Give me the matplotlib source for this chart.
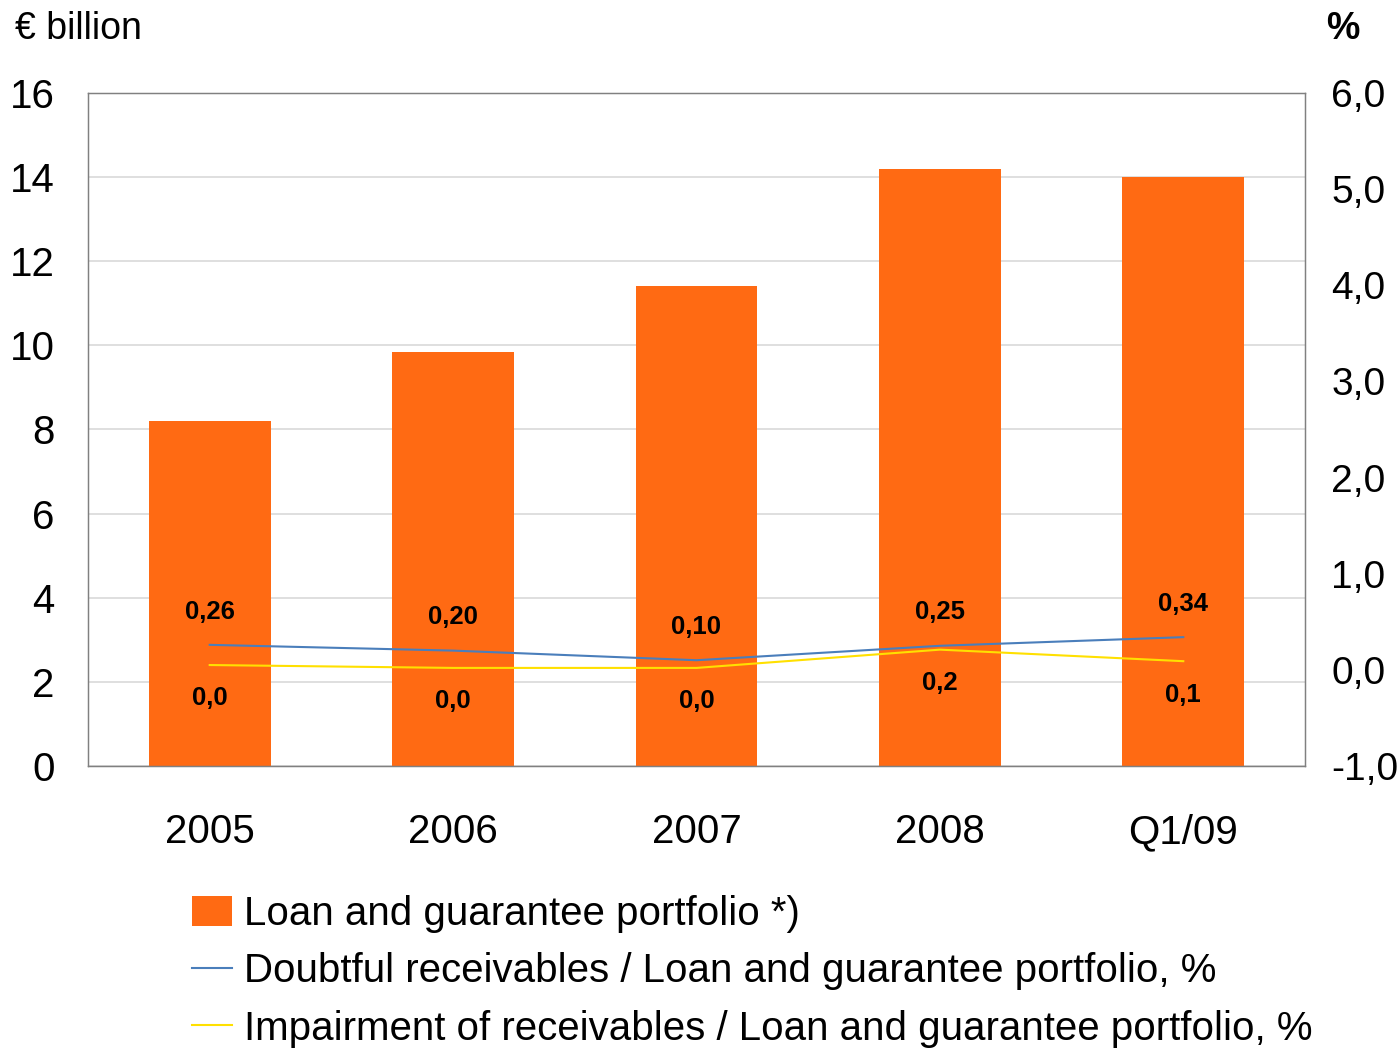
import matplotlib
matplotlib.use('Agg')
import matplotlib.pyplot as plt
from matplotlib.patches import Patch
from matplotlib.lines import Line2D

plt.rcParams['font.family'] = ['Liberation Sans', 'DejaVu Sans']

# 데이터
categories = ['2005', '2006', '2007', '2008', 'Q1/09']
portfolio = [8.2, 9.85, 11.4, 14.2, 14.0]          # € billion
doubtful = [0.26, 0.20, 0.10, 0.25, 0.34]          # %
impairment = [0.05, 0.02, 0.02, 0.21, 0.09]        # %
impairment_labels = ['0,0', '0,0', '0,0', '0,2', '0,1']
left_ticks = [0, 2, 4, 6, 8, 10, 12, 14, 16]
right_ticks = [-1, 0, 1, 2, 3, 4, 5, 6]

orange = '#FF6A13'
blue = '#4A7EBB'
yellow = '#FFE000'

fig = plt.figure(figsize=(13.99, 10.48), dpi=100)
ax = fig.add_axes([0.0629, 0.2691, 0.8699, 0.6422])
x = list(range(len(categories)))

ax.bar(x, portfolio, width=0.5, color=orange, zorder=2)
ax.set_xlim(-0.5, 4.5)
ax.set_ylim(0, 16)
ax.set_yticks(left_ticks)
ax.set_xticks(x)
ax.set_xticklabels(categories)
ax.grid(axis='y', color='#d9d9d9', linewidth=1.2, zorder=0)
ax.tick_params(axis='y', length=0, pad=24, labelsize=29)
ax.tick_params(axis='x', length=0, pad=34, labelsize=29)
for s in ax.spines.values():
    s.set_color('#808080')
    s.set_linewidth(1)

ax2 = ax.twinx()
ax2.plot(x, doubtful, color=blue, linewidth=1.5, zorder=3)
ax2.plot(x, impairment, color=yellow, linewidth=1.5, zorder=3)
ax2.set_ylim(-1, 6)
ax2.set_yticks(right_ticks)
ax2.set_yticklabels([f'{t:.1f}'.replace('.', ',') for t in right_ticks])
ax2.tick_params(axis='y', length=0, pad=19, labelsize=28)
for s in ax2.spines.values():
    s.set_color('#808080')

for xi, v in zip(x, doubtful):
    ax2.annotate(f'{v:.2f}'.replace('.', ','), (xi, v), xytext=(0, 24),
                 textcoords='offset points', ha='center', va='center',
                 fontsize=18.5, fontweight='bold')
for xi, v, lab in zip(x, impairment, impairment_labels):
    ax2.annotate(lab, (xi, v), xytext=(0, -24),
                 textcoords='offset points', ha='center', va='center',
                 fontsize=18.5, fontweight='bold')

fig.text(0.011, 0.972, '€ billion', fontsize=27, va='center', ha='left')
fig.text(0.948, 0.972, '%', fontsize=27, va='center', ha='left', fontweight='bold')

handles = [Patch(facecolor=orange),
           Line2D([], [], color=blue, linewidth=1.5),
           Line2D([], [], color=yellow, linewidth=1.5)]
labels = ['Loan and guarantee portfolio *)',
          'Doubtful receivables / Loan and guarantee portfolio, %',
          'Impairment of receivables / Loan and guarantee portfolio, %']
fig.legend(handles, labels, loc='upper left', bbox_to_anchor=(0.137, 0.146),
           frameon=False, fontsize=29, handlelength=1.0, handleheight=0.75,
           handletextpad=0.3, labelspacing=0.48, borderaxespad=0, borderpad=0)

fig.savefig('out.png', dpi=100)
